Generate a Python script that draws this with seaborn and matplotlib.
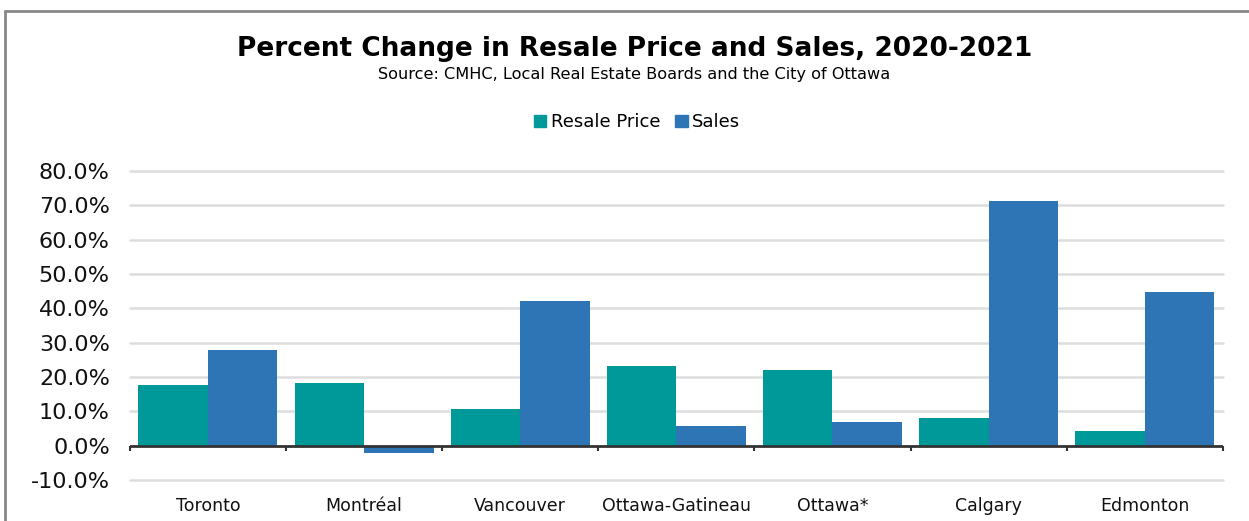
import numpy as np
import pandas as pd
import matplotlib
matplotlib.use("Agg")
import matplotlib.pyplot as plt
import seaborn as sns
from matplotlib.lines import Line2D
from matplotlib.patches import Patch

# ── Data ──────────────────────────────────────────────────────────────────────
cities = ["Toronto", "Montréal", "Vancouver", "Ottawa-Gatineau",
          "Ottawa*", "Calgary", "Edmonton"]
resale_price = [17.7, 18.2, 10.8, 23.2, 21.9, 8.0, 4.2]
sales = [27.9, -2.2, 42.2, 5.6, 6.8, 71.3, 44.7]
series_names = ["Resale Price", "Sales"]
y_ticks = [-10, 0, 10, 20, 30, 40, 50, 60, 70, 80]

TEAL = "#009999"
BLUE = "#2E75B6"

df = pd.DataFrame({
    "city": cities * 2,
    "series": [series_names[0]] * len(cities) + [series_names[1]] * len(cities),
    "value": resale_price + sales,
})

# ── Figure ────────────────────────────────────────────────────────────────────
sns.set_theme(style="white")
plt.rcParams["font.family"] = ["DejaVu Sans"]
plt.rcParams["text.color"] = "black"

fig = plt.figure(figsize=(12.49, 5.21), dpi=100)
ax = fig.add_axes([0.104, 0.0787, 0.875, 0.593])

sns.barplot(data=df, x="city", y="value", hue="series",
            palette=[TEAL, BLUE], saturation=1, width=0.89, linewidth=0,
            legend=False, ax=ax, zorder=3)

ax.set_ylim(-10, 80)
ax.set_xlim(-0.5, len(cities) - 0.5)
ax.set_yticks(y_ticks)
ax.set_yticklabels([f"{v:.1f}%" for v in y_ticks], fontsize=16, color="#111111")
ax.set_xlabel("")
ax.set_ylabel("")
for s in ax.spines.values():
    s.set_visible(False)

# griglia orizzontale chiara, la linea dello zero è scura
for v in y_ticks:
    if v != 0:
        ax.axhline(v, color="#DDDDDD", linewidth=1.8, zorder=1, clip_on=False)
ax.axhline(0, color="#333333", linewidth=2, zorder=4)
ax.vlines(np.arange(-0.5, len(cities)), -1.6, 0, color="#333333",
          linewidth=1.5, zorder=4, clip_on=False)

ax.tick_params(axis="y", length=0, pad=14.5)
ax.tick_params(axis="x", length=0, pad=12, labelsize=12.5, labelcolor="#111111")

# ── Titoli e legenda ──────────────────────────────────────────────────────────
fig.text(0.508, 0.905, "Percent Change in Resale Price and Sales, 2020-2021",
         ha="center", va="center", fontsize=19, fontweight="bold")
fig.text(0.508, 0.857, "Source: CMHC, Local Real Estate Boards and the City of Ottawa",
         ha="center", va="center", fontsize=11.6)

handles = [Patch(color=TEAL), Patch(color=BLUE)]
fig.legend(handles, series_names, loc="center", bbox_to_anchor=(0.51, 0.765),
           ncol=2, frameon=False, fontsize=13, handlelength=0.7,
           handleheight=0.7, handletextpad=0.25, columnspacing=0.8)

# bordo grigio del riquadro
fig.add_artist(Line2D([5 / 1249, 5 / 1249], [0, 1 - 11 / 521],
                      transform=fig.transFigure, color="#888888", linewidth=2))
fig.add_artist(Line2D([5 / 1249, 1], [1 - 11 / 521, 1 - 11 / 521],
                      transform=fig.transFigure, color="#888888", linewidth=2))

fig.savefig("out.png", dpi=100)
